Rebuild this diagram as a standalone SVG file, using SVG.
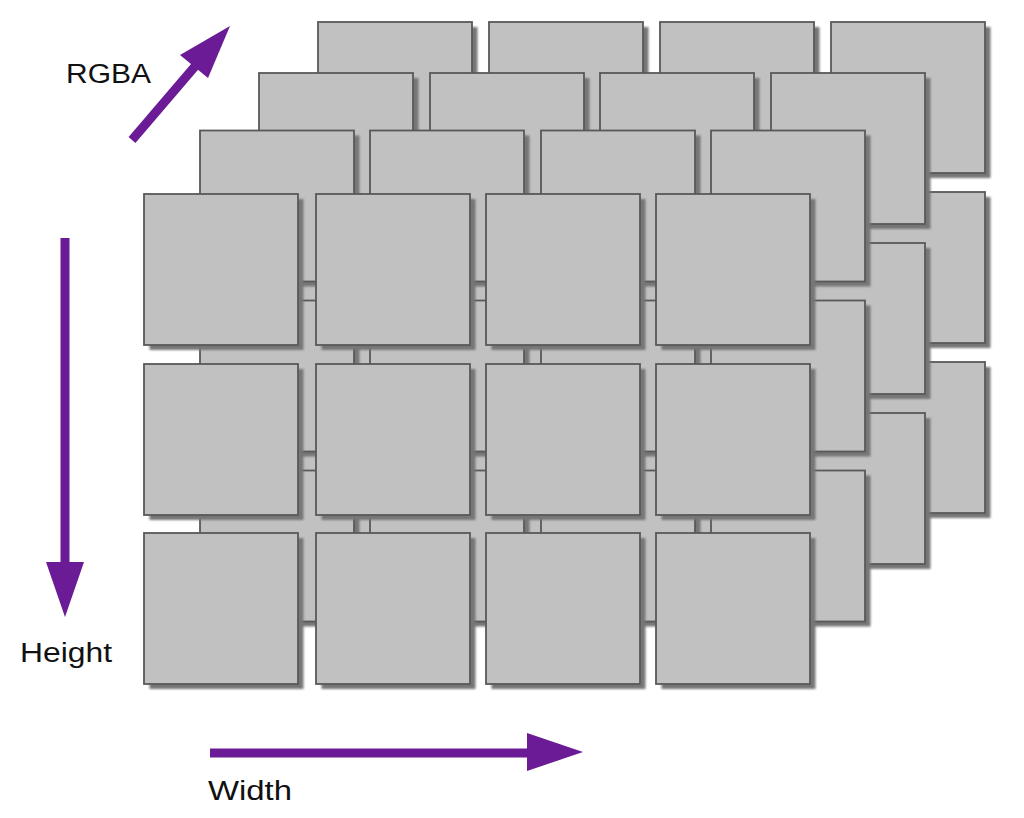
<svg xmlns="http://www.w3.org/2000/svg" xmlns:xlink="http://www.w3.org/1999/xlink" width="1024" height="818" viewBox="0 0 1024 818">
<style>
.bx{fill:#c1c1c1;stroke:#595959;stroke-width:1.8}
.sh{fill:#767676}
.lbl{font-family:"Liberation Sans",Arial,sans-serif;font-size:27px;fill:#111}
.ar{stroke:#6a1b95;stroke-width:9;fill:none}
.hd{fill:#6a1b95}
</style>
<defs>
<filter id="soft" x="-5%" y="-5%" width="110%" height="110%"><feGaussianBlur stdDeviation="0.9"/></filter>
<g id="sq"><rect class="sh" x="5.5" y="5" width="154" height="151" filter="url(#soft)"/><rect class="bx" x="0" y="0" width="154" height="151"/></g>
</defs>
<rect width="1024" height="818" fill="#fff"/>
<g id="layer3">
<g id="l3r0c0"><use href="#sq" x="318" y="22"/></g>
<g id="l3r0c1"><use href="#sq" x="489" y="22"/></g>
<g id="l3r0c2"><use href="#sq" x="660" y="22"/></g>
<g id="l3r0c3"><use href="#sq" x="831" y="22"/></g>
<g id="l3r1c0"><use href="#sq" x="318" y="192"/></g>
<g id="l3r1c1"><use href="#sq" x="489" y="192"/></g>
<g id="l3r1c2"><use href="#sq" x="660" y="192"/></g>
<g id="l3r1c3"><use href="#sq" x="831" y="192"/></g>
<g id="l3r2c0"><use href="#sq" x="318" y="362"/></g>
<g id="l3r2c1"><use href="#sq" x="489" y="362"/></g>
<g id="l3r2c2"><use href="#sq" x="660" y="362"/></g>
<g id="l3r2c3"><use href="#sq" x="831" y="362"/></g>
</g>
<g id="layer2">
<g id="l2r0c0"><use href="#sq" x="259" y="73"/></g>
<g id="l2r0c1"><use href="#sq" x="430" y="73"/></g>
<g id="l2r0c2"><use href="#sq" x="600" y="73"/></g>
<g id="l2r0c3"><use href="#sq" x="771" y="73"/></g>
<g id="l2r1c0"><use href="#sq" x="259" y="243"/></g>
<g id="l2r1c1"><use href="#sq" x="430" y="243"/></g>
<g id="l2r1c2"><use href="#sq" x="600" y="243"/></g>
<g id="l2r1c3"><use href="#sq" x="771" y="243"/></g>
<g id="l2r2c0"><use href="#sq" x="259" y="413"/></g>
<g id="l2r2c1"><use href="#sq" x="430" y="413"/></g>
<g id="l2r2c2"><use href="#sq" x="600" y="413"/></g>
<g id="l2r2c3"><use href="#sq" x="771" y="413"/></g>
</g>
<g id="layer1">
<g id="l1r0c0"><use href="#sq" x="200" y="130.5"/></g>
<g id="l1r0c1"><use href="#sq" x="370" y="130.5"/></g>
<g id="l1r0c2"><use href="#sq" x="541" y="130.5"/></g>
<g id="l1r0c3"><use href="#sq" x="711" y="130.5"/></g>
<g id="l1r1c0"><use href="#sq" x="200" y="300.5"/></g>
<g id="l1r1c1"><use href="#sq" x="370" y="300.5"/></g>
<g id="l1r1c2"><use href="#sq" x="541" y="300.5"/></g>
<g id="l1r1c3"><use href="#sq" x="711" y="300.5"/></g>
<g id="l1r2c0"><use href="#sq" x="200" y="470.5"/></g>
<g id="l1r2c1"><use href="#sq" x="370" y="470.5"/></g>
<g id="l1r2c2"><use href="#sq" x="541" y="470.5"/></g>
<g id="l1r2c3"><use href="#sq" x="711" y="470.5"/></g>
</g>
<g id="layer0">
<g id="l0r0c0"><use href="#sq" x="144" y="194"/></g>
<g id="l0r0c1"><use href="#sq" x="316" y="194"/></g>
<g id="l0r0c2"><use href="#sq" x="486" y="194"/></g>
<g id="l0r0c3"><use href="#sq" x="656" y="194"/></g>
<g id="l0r1c0"><use href="#sq" x="144" y="364"/></g>
<g id="l0r1c1"><use href="#sq" x="316" y="364"/></g>
<g id="l0r1c2"><use href="#sq" x="486" y="364"/></g>
<g id="l0r1c3"><use href="#sq" x="656" y="364"/></g>
<g id="l0r2c0"><use href="#sq" x="144" y="533"/></g>
<g id="l0r2c1"><use href="#sq" x="316" y="533"/></g>
<g id="l0r2c2"><use href="#sq" x="486" y="533"/></g>
<g id="l0r2c3"><use href="#sq" x="656" y="533"/></g>
</g>
<g id="connectors">
<line class="ar" x1="132" y1="140" x2="197" y2="64"/>
<polygon class="hd" points="180,55 208,78 230,26"/>
<line class="ar" x1="65" y1="238" x2="65" y2="566"/>
<polygon class="hd" points="46,562 84,562 65,617"/>
<line class="ar" x1="210" y1="753" x2="530" y2="753"/>
<polygon class="hd" points="527,733 527,771 583,752"/>
</g>
<g id="labels">
<text class="lbl" x="66" y="83" textLength="85" lengthAdjust="spacingAndGlyphs">RGBA</text>
<text class="lbl" x="20" y="662" textLength="92" lengthAdjust="spacingAndGlyphs">Height</text>
<text class="lbl" x="208" y="800" textLength="84" lengthAdjust="spacingAndGlyphs">Width</text>
</g>
</svg>
